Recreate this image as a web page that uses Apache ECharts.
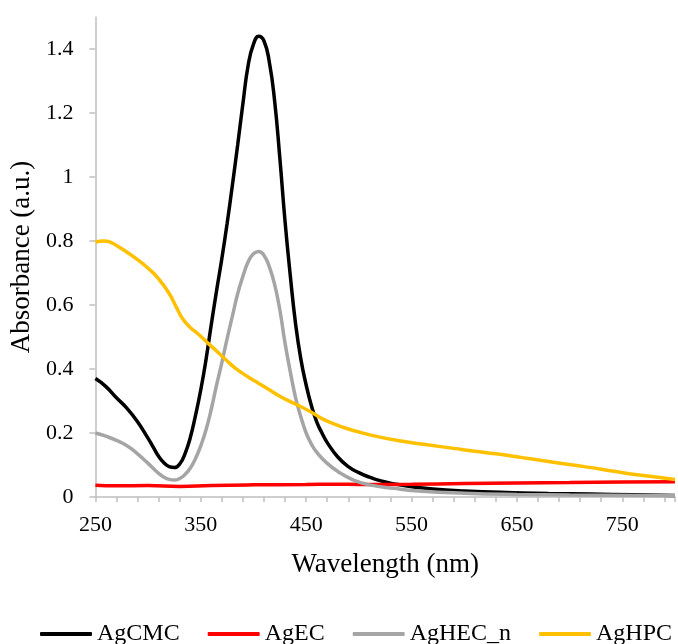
<!DOCTYPE html>
<html>
<head>
<meta charset="utf-8">
<script src="https://cdn.jsdelivr.net/npm/echarts@6/dist/echarts.min.js"></script>
<style>
html,body{margin:0;padding:0;background:#fff;}
#chart{width:678px;height:644px;}
</style>
</head>
<body>
<div id="chart"></div>
<script>
// ---- data ----
const seriesNames = ['AgCMC', 'AgEC', 'AgHEC_n', 'AgHPC'];
const seriesColors = ['#000000', '#ff0000', '#a5a5a5', '#ffc000'];

const wlAgCMC = [250,260,270,280,290,300,305,310,315,320,325,330,335,340,345,350,355,360,365,370,375,380,385,390,395,400,405,410,415,420,425,430,435,440,445,450,455,460,465,470,480,490,500,510,520,535,550,570,600,640,680,720,760,800];
const absAgCMC = [0.37,0.345,0.31,0.277,0.235,0.183,0.155,0.127,0.107,0.095,0.092,0.103,0.135,0.185,0.255,0.335,0.43,0.54,0.645,0.745,0.855,0.975,1.1,1.23,1.35,1.415,1.44,1.425,1.36,1.24,1.06,0.86,0.69,0.54,0.43,0.35,0.285,0.235,0.2,0.17,0.125,0.095,0.076,0.062,0.051,0.04,0.032,0.025,0.019,0.014,0.011,0.009,0.007,0.005];

const wlAgEC = [250,270,300,330,360,400,450,480,500,550,600,650,700,750,800];
const absAgEC = [0.037,0.035,0.036,0.033,0.036,0.038,0.039,0.040,0.039,0.040,0.042,0.044,0.045,0.047,0.048];

const wlAgHEC = [250,260,270,280,290,300,305,310,315,320,325,330,335,340,345,350,355,360,365,370,375,380,385,390,395,400,405,410,415,420,425,430,435,440,445,450,455,460,470,480,495,510,533,560,600,650,700,800];
const absAgHEC = [0.20,0.19,0.177,0.16,0.135,0.105,0.089,0.074,0.062,0.055,0.053,0.058,0.07,0.09,0.12,0.16,0.21,0.275,0.35,0.42,0.495,0.565,0.635,0.69,0.735,0.76,0.767,0.755,0.72,0.665,0.585,0.48,0.39,0.31,0.25,0.2,0.165,0.14,0.105,0.08,0.053,0.038,0.027,0.018,0.012,0.008,0.006,0.004];

const wlAgHPC = [250,258,265,272,280,290,300,310,320,327,333,340,348,357,367,375,383,395,405,415,425,435,445,455,465,475,485,500,520,540,565,590,610,630,655,680,705,730,760,780,800];
const absAgHPC = [0.797,0.80,0.795,0.782,0.765,0.742,0.715,0.682,0.636,0.592,0.556,0.53,0.508,0.48,0.45,0.425,0.402,0.375,0.355,0.335,0.315,0.298,0.282,0.265,0.245,0.23,0.218,0.203,0.187,0.175,0.163,0.152,0.143,0.135,0.123,0.111,0.099,0.087,0.071,0.063,0.055];

const xTickLabels = [250, 350, 450, 550, 650, 750];
const xStart = 250, xEnd = 800, xTickStep = 20;
const yMax = 1.5, yTickStep = 0.2;

// ---- chart ----
const font = '"Liberation Serif", "Times New Roman", serif';
const toPairs = (xs, ys) => xs.map((x, i) => [x - xStart, ys[i]]);
const allData = [
  toPairs(wlAgCMC, absAgCMC),
  toPairs(wlAgEC, absAgEC),
  toPairs(wlAgHEC, absAgHEC),
  toPairs(wlAgHPC, absAgHPC)
];
const axisGrey = '#bfbfbf';

const chart = echarts.init(document.getElementById('chart'), null, {renderer: 'canvas'});
chart.setOption({
  animation: false,
  backgroundColor: '#ffffff',
  grid: {left: 95, right: -4, top: 17, bottom: 147, containLabel: false},
  xAxis: {
    type: 'value', min: 0, max: xEnd - xStart, interval: xTickStep,
    axisLine: {show: true, lineStyle: {color: axisGrey, width: 1.5}},
    axisTick: {show: true, length: 5, lineStyle: {color: axisGrey, width: 1.5}},
    splitLine: {show: false},
    axisLabel: {
      margin: 17, fontSize: 22, fontFamily: font, color: '#000',
      formatter: v => xTickLabels.includes(v + xStart) ? String(v + xStart) : ''
    },
    name: 'Wavelength (nm)', nameLocation: 'middle', nameGap: 54,
    nameTextStyle: {fontSize: 27, fontFamily: font, color: '#000'}
  },
  yAxis: {
    type: 'value', min: 0, max: yMax, interval: yTickStep,
    axisLine: {show: true, lineStyle: {color: axisGrey, width: 1.5}},
    axisTick: {show: true, length: 6, lineStyle: {color: axisGrey, width: 1.5}},
    splitLine: {show: false},
    axisLabel: {margin: 22, fontSize: 22, fontFamily: font, color: '#000', showMaxLabel: false},
    name: 'Absorbance (a.u.)', nameLocation: 'middle', nameGap: 55, nameRotate: 90,
    nameTextStyle: {fontSize: 27, fontFamily: font, color: '#000'}
  },
  legend: {
    show: true, left: 35, top: 617, itemWidth: 52, itemHeight: 4, itemGap: 28,
    icon: 'roundRect',
    textStyle: {fontSize: 24, fontFamily: font, color: '#000'},
    data: seriesNames
  },
  series: seriesNames.map((name, i) => ({
    name: name, type: 'line', data: allData[i],
    showSymbol: false, symbol: 'none', smooth: 0.5,
    lineStyle: {color: seriesColors[i], width: 3.5},
    itemStyle: {color: seriesColors[i]}
  }))
});
</script>
</body>
</html>
